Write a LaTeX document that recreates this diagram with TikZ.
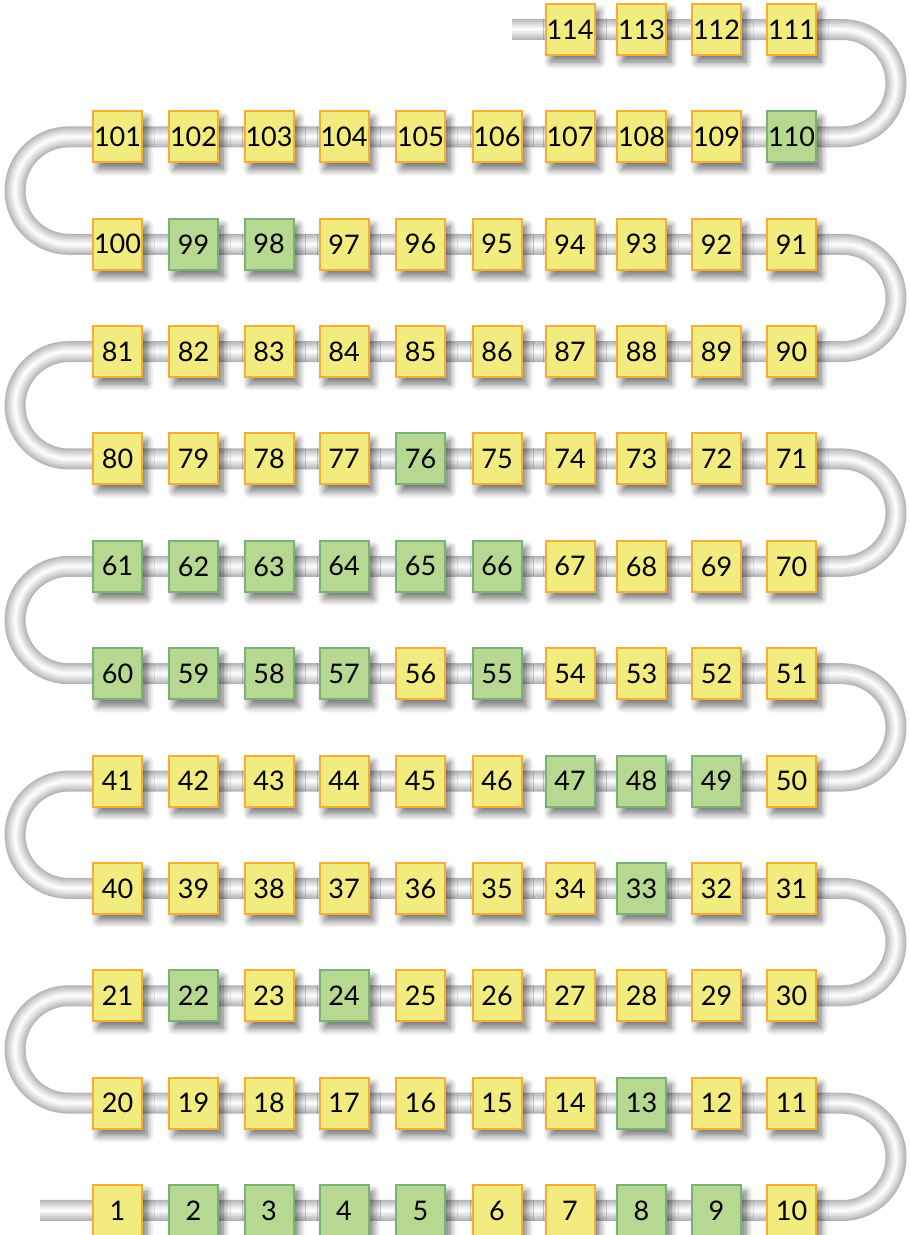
\documentclass[tikz,border=0pt]{standalone}
\usepackage{fontspec}
\setmainfont{Lato}
\usetikzlibrary{backgrounds, shadows.blur}
\definecolor{ylwfill}{RGB}{242,236,126}
\definecolor{ylwline}{RGB}{247,173,51}
\definecolor{grnfill}{RGB}{182,216,144}
\definecolor{grnline}{RGB}{120,178,118}
\definecolor{tubeA}{RGB}{182,182,184}
\definecolor{tubeB}{RGB}{196,196,198}
\definecolor{tubeC}{RGB}{210,210,212}
\definecolor{tubeD}{RGB}{224,224,226}
\definecolor{tubeE}{RGB}{238,238,239}
\definecolor{tubeF}{RGB}{250,250,250}

\begin{document}
\begin{tikzpicture}[x=1pt, y=1pt, font=\fontsize{27}{27}\selectfont]
  \tikzset{
    cell/.style={draw, line width=2pt, minimum width=49pt,
      minimum height=51pt, inner sep=0pt,
      blur shadow={shadow xshift=5pt, shadow yshift=-7pt,
        shadow blur radius=7pt, shadow blur steps=8,
        shadow opacity=55}},
    tube/.style={line width=#1, line cap=butt, line join=round},
  }
  \useasboundingbox (0,0) rectangle (910,1235);
  % Cells, row by row, snaking up
  \foreach \n in {1,...,114}{
    \pgfmathtruncatemacro\rw{(\n-1)/10}
    \pgfmathtruncatemacro\pp{mod(\n-1,10)}
    \pgfmathtruncatemacro\cc{mod(\rw,2)==0 ? \pp : 9-\pp}
    \pgfmathsetmacro\xx{{117.5,193.5,269,344,420.5,497,570,641.5,716.5,791.5}[\cc]}
    \gdef\fc{ylwfill}\gdef\dc{ylwline}
    \foreach \g in {2,3,4,5,8,9,13,22,24,33,47,48,49,55,57,58,59,60,
                    61,62,63,64,65,66,76,98,99,110}{%
      \ifnum\g=\n\relax\gdef\fc{grnfill}\gdef\dc{grnline}\fi}
    \node[cell, fill=\fc, draw=\dc] (b\n) at (\xx, 24.5+107.36*\rw) {\n};
  }
  % Tube ends
  \coordinate (tA) at (40,24.5);
  \coordinate (tB) at (512,1205.5);
  % Tube
  \begin{scope}[on background layer]
    \foreach \w/\col in {21/tubeA, 18/tubeB, 14.5/tubeC, 11/tubeD,
                         7/tubeE, 3/tubeF}{
      \draw[tube=\w pt, \col] (tA)
        foreach \a/\b in {10/20,30/40,50/60,70/80,90/100}{
          -- (b\a.center) -- ++(50.8,0)
             arc[start angle=-90, end angle=90, radius=53.68]
          -- (b\b.center) -- ++(-48.8,0)
             arc[start angle=270, end angle=90, radius=53.68]}
        -- (b110.center) -- ++(50.8,0)
           arc[start angle=-90, end angle=90, radius=53.68] -- (tB);
    }
  \end{scope}
\end{tikzpicture}
\end{document}
